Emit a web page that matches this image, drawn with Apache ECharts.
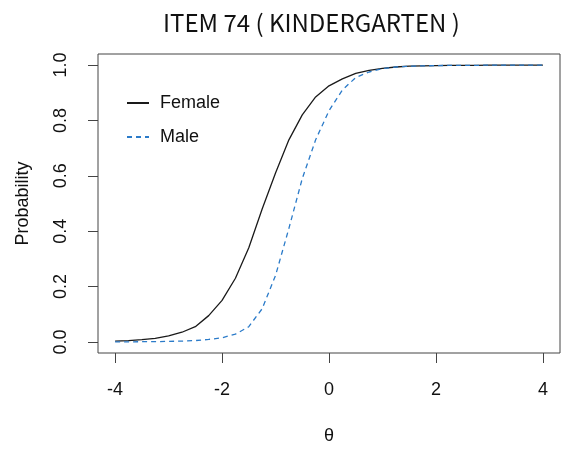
<!DOCTYPE html>
<html>
<head>
<meta charset="utf-8">
<script src="https://cdn.jsdelivr.net/npm/echarts@6/dist/echarts.min.js"></script>
<style>
  html, body { margin: 0; padding: 0; background: #fff; }
  #chart { width: 561px; height: 452px; }
</style>
</head>
<body>
<div id="chart"></div>
<script>
// Item characteristic curves for item 74, by group
const theta = [-4, -3.75, -3.5, -3.25, -3, -2.75, -2.5, -2.25, -2, -1.75, -1.5, -1.25, -1,
  -0.75, -0.5, -0.25, 0, 0.25, 0.5, 0.75, 1, 1.25, 1.5, 1.75, 2, 2.25, 2.5, 2.75, 3,
  3.25, 3.5, 3.75, 4];
const female = [0.003, 0.005, 0.008, 0.013, 0.022, 0.035, 0.055, 0.095, 0.15, 0.23, 0.34, 0.48, 0.61,
  0.73, 0.82, 0.885, 0.925, 0.95, 0.97, 0.981, 0.988, 0.993, 0.996, 0.997, 0.998, 0.999, 0.999, 0.999, 1.0,
  1.0, 1.0, 1.0, 1.0];
const male = [0.0, 0.0, 0.001, 0.001, 0.002, 0.003, 0.005, 0.009, 0.015, 0.028, 0.055, 0.12, 0.24,
  0.41, 0.59, 0.73, 0.835, 0.91, 0.955, 0.975, 0.987, 0.993, 0.996, 0.997, 0.998, 0.999, 0.999, 0.999, 1.0,
  1.0, 1.0, 1.0, 1.0];
const xTicks = [-4, -2, 0, 2, 4];
const yTicks = [0, 0.2, 0.4, 0.6, 0.8, 1.0];

const pairs = (ys) => theta.map((t, i) => [t, ys[i]]);
const FONT = 'Liberation Sans, Arial, sans-serif';
const INK = '#111';
const FRAME = '#444';

const chart = echarts.init(document.getElementById('chart'), null, { renderer: 'canvas' });
chart.setOption({
  backgroundColor: '#fff',
  animation: false,
  title: {
    text: 'ITEM 74 ( KINDERGARTEN )',
    left: 158,
    top: 6,
    textStyle: { fontFamily: 'Noto Sans CJK KR', fontSize: 24, fontWeight: 'normal', color: INK }
  },
  legend: {
    orient: 'vertical',
    left: 121,
    top: 89,
    itemWidth: 22,
    itemHeight: 18,
    itemGap: 16,
    itemStyle: { opacity: 0 },
    textStyle: { fontFamily: FONT, fontSize: 18, color: INK, padding: [0, 0, 0, 6] },
    data: ['Female', 'Male']
  },
  grid: {
    left: 98, top: 54, right: 1, bottom: 99,
    show: true, borderColor: FRAME, borderWidth: 1, backgroundColor: 'transparent'
  },
  xAxis: {
    type: 'value',
    min: -4.32, max: 4.32,
    name: 'θ',
    nameLocation: 'middle',
    nameGap: 74,
    nameTextStyle: { fontFamily: FONT, fontSize: 18, color: INK },
    axisLine: { show: false, onZero: false },
    splitLine: { show: false },
    axisTick: { show: true, length: 10, customValues: xTicks, lineStyle: { color: FRAME, width: 1 } },
    axisLabel: { customValues: xTicks, margin: 28, fontFamily: FONT, fontSize: 18, color: INK,
      formatter: (v) => String(v) }
  },
  yAxis: {
    type: 'value',
    min: -0.04, max: 1.04,
    name: 'Probability',
    nameLocation: 'middle',
    nameGap: 66,
    nameTextStyle: { fontFamily: FONT, fontSize: 18, color: INK },
    axisLine: { show: false, onZero: false },
    splitLine: { show: false },
    axisTick: { show: true, length: 10, customValues: yTicks, lineStyle: { color: FRAME, width: 1 } },
    axisLabel: { customValues: yTicks, rotate: 90, margin: 28, fontFamily: FONT, fontSize: 18, color: INK,
      formatter: (v) => v.toFixed(1) }
  },
  series: [
    {
      name: 'Female',
      type: 'line',
      data: pairs(female),
      symbol: 'none',
      smooth: false,
      lineStyle: { color: '#1a1a1a', width: 1.3, type: 'solid' },
      itemStyle: { color: '#1a1a1a' }
    },
    {
      name: 'Male',
      type: 'line',
      data: pairs(male),
      symbol: 'none',
      smooth: false,
      lineStyle: { color: '#2b7bc9', width: 1.3, type: [5, 4] },
      itemStyle: { color: '#2b7bc9' }
    }
  ]
});
</script>
</body>
</html>
